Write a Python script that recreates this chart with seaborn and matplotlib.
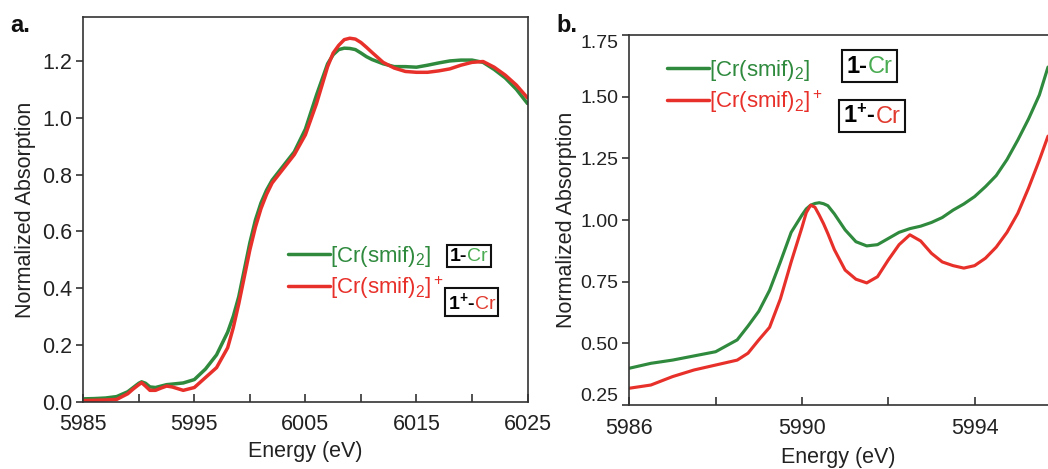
import numpy as np
import pandas as pd
import matplotlib
matplotlib.use("Agg")
import matplotlib.pyplot as plt
import seaborn as sns
from matplotlib.lines import Line2D
from matplotlib.offsetbox import TextArea, HPacker, AnchoredOffsetbox
from matplotlib.ticker import FixedLocator

# ---------------- data ----------------
energy_a = [5985, 5986, 5987, 5988, 5989, 5989.5, 5990, 5990.25, 5990.6, 5991, 5991.5, 5992,
            5992.5, 5993, 5994, 5995, 5996, 5997, 5998, 5998.5, 5999, 5999.5, 6000, 6000.5,
            6001, 6001.5, 6002, 6003, 6004, 6005, 6006, 6007, 6007.5, 6008, 6008.5, 6009,
            6009.5, 6010, 6010.5, 6011, 6012, 6013, 6014, 6015, 6016, 6017, 6018, 6019, 6020,
            6021, 6022, 6023, 6024, 6025]
green_a = [0.010, 0.011, 0.013, 0.018, 0.035, 0.050, 0.065, 0.070, 0.065, 0.052, 0.050, 0.055,
           0.060, 0.062, 0.066, 0.078, 0.115, 0.165, 0.245, 0.300, 0.370, 0.465, 0.560, 0.640,
           0.700, 0.745, 0.780, 0.830, 0.880, 0.960, 1.080, 1.190, 1.222, 1.240, 1.245, 1.244,
           1.240, 1.228, 1.215, 1.205, 1.190, 1.180, 1.180, 1.178, 1.185, 1.193, 1.200, 1.203,
           1.203, 1.195, 1.170, 1.140, 1.100, 1.050]
red_a = [0.004, 0.005, 0.006, 0.008, 0.028, 0.045, 0.060, 0.067, 0.055, 0.040, 0.040, 0.048,
         0.055, 0.052, 0.040, 0.050, 0.085, 0.120, 0.190, 0.260, 0.345, 0.440, 0.535, 0.615,
         0.680, 0.730, 0.770, 0.820, 0.870, 0.940, 1.050, 1.180, 1.228, 1.255, 1.275, 1.280,
         1.277, 1.265, 1.248, 1.230, 1.195, 1.175, 1.163, 1.160, 1.160, 1.165, 1.172, 1.185,
         1.195, 1.198, 1.178, 1.150, 1.115, 1.070]

energy_b = [5986.0, 5986.5, 5987.0, 5987.5, 5988.0, 5988.5, 5988.75, 5989.0, 5989.25, 5989.5,
            5989.75, 5990.0, 5990.1, 5990.2, 5990.3, 5990.4, 5990.5, 5990.6, 5990.75, 5991.0,
            5991.25, 5991.5, 5991.75, 5992.0, 5992.25, 5992.5, 5992.75, 5993.0, 5993.25,
            5993.5, 5993.75, 5994.0, 5994.25, 5994.5, 5994.75, 5995.0, 5995.25, 5995.5, 5995.7]
green_b = [0.399, 0.419, 0.432, 0.449, 0.466, 0.514, 0.570, 0.630, 0.715, 0.830,
           0.950, 1.020, 1.045, 1.060, 1.067, 1.070, 1.066, 1.058, 1.025, 0.960,
           0.912, 0.895, 0.900, 0.925, 0.950, 0.965, 0.975, 0.990, 1.010,
           1.040, 1.065, 1.095, 1.135, 1.180, 1.245, 1.324, 1.410, 1.507, 1.620]
red_b = [0.318, 0.331, 0.365, 0.392, 0.412, 0.432, 0.460, 0.514, 0.565, 0.680,
         0.830, 0.970, 1.030, 1.060, 1.052, 1.020, 0.985, 0.945, 0.880, 0.797,
         0.760, 0.745, 0.770, 0.838, 0.900, 0.940, 0.915, 0.865, 0.830,
         0.815, 0.805, 0.815, 0.845, 0.890, 0.950, 1.027, 1.130, 1.243, 1.340]

series_labels = [r"[Cr(smif)$_2$]", r"[Cr(smif)$_2$]$^+$"]
box_labels = ["1", "1$^{\\mathbf{+}}$"]
xlabel = "Energy (eV)"
ylabel = "Normalized Absorption"

GREEN = "#2f8a3e"
RED = "#e8302a"
GREEN_TXT = "#4aac52"
RED_TXT = "#e03a2e"

sns.set_theme(style="white")
plt.rcParams["font.family"] = ["Liberation Sans", "DejaVu Sans"]
plt.rcParams["mathtext.fontset"] = "custom"
plt.rcParams["mathtext.rm"] = "Liberation Sans"
plt.rcParams["mathtext.it"] = "Liberation Sans:italic"
plt.rcParams["mathtext.bf"] = "Liberation Sans:bold"

W, H = 1048, 469
fig = plt.figure(figsize=(W / 100, H / 100), dpi=100)
fig.patch.set_facecolor("white")
ax1 = fig.add_axes([83.3 / W, 1 - 401.7 / H, (527.5 - 83.3) / W, (401.7 - 17.5) / H])
ax2 = fig.add_axes([629.3 / W, 1 - 405 / H, (W - 629.3) / W, (405 - 35) / H])

lw = 2.5
sns.lineplot(x=energy_a, y=green_a, ax=ax1, color=GREEN, lw=lw, sort=False, estimator=None)
sns.lineplot(x=energy_a, y=red_a, ax=ax1, color=RED, lw=lw, sort=False, estimator=None)
sns.lineplot(x=energy_b, y=green_b, ax=ax2, color=GREEN, lw=lw * 0.9, sort=False, estimator=None)
sns.lineplot(x=energy_b, y=red_b, ax=ax2, color=RED, lw=lw * 0.9, sort=False, estimator=None)

for ax in (ax1, ax2):
    ax.set_facecolor("white")
    for s in ax.spines.values():
        s.set_color("#333333")
        s.set_linewidth(1.2)
        s.set_visible(True)
    ax.set_ylabel(ylabel, fontsize=15.5, color="#222222", labelpad=4)
    ax.tick_params(axis="x", which="both", direction="in", length=6, width=1.2,
                   colors="#333333", labelsize=15.5, pad=9, labelcolor="#222222")
    ax.tick_params(axis="y", which="both", direction="out", length=5, width=1.2,
                   colors="#333333", labelsize=15.5, pad=3, labelcolor="#222222")
    ax.tick_params(bottom=True, left=True, top=False, right=False)
    ax.tick_params(axis="x", which="minor", bottom=True, length=6)

ax1.set_xlabel(xlabel, fontsize=15.5, color="#222222", labelpad=4)
ax2.set_xlabel(xlabel, fontsize=15.5, color="#222222", labelpad=6)

ax1.xaxis.set_major_locator(FixedLocator([5985, 5995, 6005, 6015, 6025]))
ax1.xaxis.set_minor_locator(FixedLocator([5990, 6000, 6010, 6020]))
yt1 = [0.0, 0.2, 0.4, 0.6, 0.8, 1.0, 1.2]
ax1.yaxis.set_major_locator(FixedLocator(yt1))
ax1.set_yticklabels([f"{v:.1f}" for v in yt1])
ax1.set_xlim(5985, 6025)
ax1.set_ylim(0, 1.353)

ax2.xaxis.set_major_locator(FixedLocator([5986, 5990, 5994]))
ax2.xaxis.set_minor_locator(FixedLocator([5988, 5992]))
yt2 = [0.25, 0.5, 0.75, 1.0, 1.25, 1.5, 1.75]
ax2.yaxis.set_major_locator(FixedLocator(yt2))
ax2.set_yticklabels([f"{v:.2f}" for v in yt2])
ax2.tick_params(axis="y", labelsize=14)
ax2.set_xlim(5986, 5995.7)
ax2.set_ylim(0.25, 1.75)
ax2.spines["right"].set_visible(False)
ax2.yaxis.labelpad = 2
ylabs2 = ax2.get_yticklabels()
ylabs2[-1].set_verticalalignment("top")
ylabs2[0].set_verticalalignment("bottom")


def add_legend(ax, anchor, fs):
    handles = [Line2D([], [], color=GREEN, lw=lw), Line2D([], [], color=RED, lw=lw)]
    leg = ax.legend(handles, series_labels, loc="upper left", bbox_to_anchor=anchor,
                    frameon=False, fontsize=fs, handlelength=1.9, handletextpad=0.0,
                    borderpad=0, labelspacing=0.25)
    leg.get_texts()[0].set_color(GREEN)
    leg.get_texts()[1].set_color(RED)


def add_box(ax, first, cr_color, xy, fs, pad):
    t1 = TextArea(first + "-", textprops=dict(color="black", fontsize=fs, fontweight="bold"))
    t2 = TextArea("Cr", textprops=dict(color=cr_color, fontsize=fs))
    pack = HPacker(children=[t1, t2], align="baseline", pad=0, sep=0)
    box = AnchoredOffsetbox(loc="center", child=pack, bbox_to_anchor=xy,
                            bbox_transform=ax.transAxes, frameon=True, pad=pad, borderpad=0)
    box.patch.set_edgecolor("#111111")
    box.patch.set_linewidth(1.5)
    box.patch.set_boxstyle("square", pad=0)
    ax.add_artist(box)


add_legend(ax1, (0.436, 0.440), 16)
add_box(ax1, box_labels[0], GREEN_TXT, (0.868, 0.379), 14, 0.18)
add_box(ax1, box_labels[1], RED_TXT, (0.874, 0.260), 14, 0.18)

add_legend(ax2, (0.064, 0.968), 16)
add_box(ax2, box_labels[0], GREEN_TXT, (0.573, 0.916), 17, 0.3)
add_box(ax2, box_labels[1], RED_TXT, (0.580, 0.781), 17, 0.3)

fig.text(10 / W, 1 - 32 / H, "a.", fontsize=17, fontweight="bold", color="#111111")
fig.text(556 / W, 1 - 32 / H, "b.", fontsize=17, fontweight="bold", color="#111111")

fig.savefig("out.png", dpi=100, facecolor="white")
